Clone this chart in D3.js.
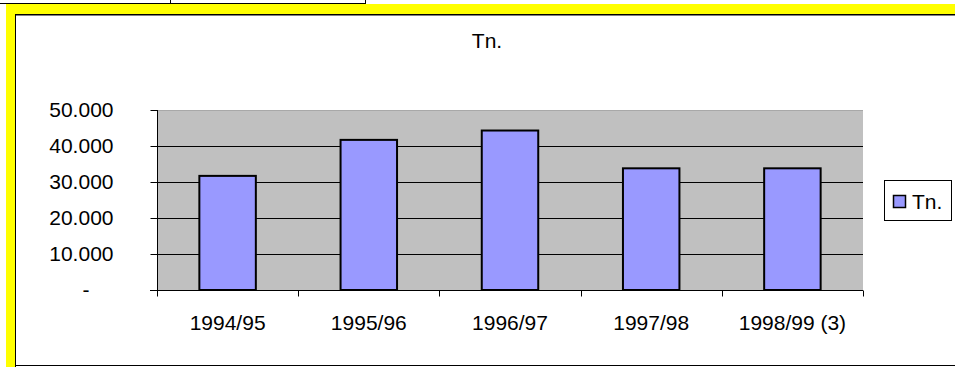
<!DOCTYPE html>
<html>
<head>
<meta charset="utf-8">
<script src="https://cdn.jsdelivr.net/npm/d3@7"></script>
<style>
  html, body { margin: 0; padding: 0; background: #fff; }
  svg { display: block; }
  text { font-family: "Liberation Sans", Arial, sans-serif; fill: #000; }
</style>
</head>
<body>
<svg id="chart" width="955" height="367"></svg>
<script>
// Campaign categories and tonnage per campaign
const categories = ["1994/95", "1995/96", "1996/97", "1997/98", "1998/99 (3)"];
const tonnes = [31700, 41700, 44300, 33800, 33800];
const yTicks = [0, 10000, 20000, 30000, 40000, 50000];
const seriesName = "Tn.";
const chartTitle = "Tn.";

const W = 955, H = 367;
const svg = d3.select("#chart");

// Sheet framing: cell borders above the chart object
svg.append("line").attr("x1", 0).attr("x2", 365).attr("y1", 3.5).attr("y2", 3.5)
  .attr("stroke", "#000").attr("stroke-width", 1);
[170.5, 365.5].forEach(x => svg.append("line").attr("x1", x).attr("x2", x)
  .attr("y1", 0).attr("y2", 4).attr("stroke", "#000").attr("stroke-width", 1));

// Yellow highlighted cell borders
svg.append("rect").attr("x", 6).attr("y", 4).attr("width", W - 6).attr("height", 10).attr("fill", "#ffff00");
svg.append("rect").attr("x", 6).attr("y", 4).attr("width", 9).attr("height", H - 4).attr("fill", "#ffff00");

// Chart object area
svg.append("rect").attr("x", 15).attr("y", 14).attr("width", W - 15).attr("height", H - 14).attr("fill", "#fff");
svg.append("line").attr("x1", 15).attr("x2", W).attr("y1", 14.5).attr("y2", 14.5).attr("stroke", "#000");
svg.append("line").attr("x1", 15).attr("x2", W).attr("y1", 15.5).attr("y2", 15.5).attr("stroke", "#808080");
svg.append("line").attr("x1", 15.5).attr("x2", 15.5).attr("y1", 14).attr("y2", H).attr("stroke", "#000");
svg.append("line").attr("x1", 15).attr("x2", W).attr("y1", 365.5).attr("y2", 365.5).attr("stroke", "#000");

// Title
svg.append("text").attr("x", 487).attr("y", 47.5).attr("text-anchor", "middle")
  .style("font-size", "21px").text(chartTitle);

// Plot area
const plot = { left: 157, right: 863, top: 110, bottom: 290 };
const x = d3.scaleBand().domain(categories).range([plot.left, plot.right]).padding(0);
const y = d3.scaleLinear().domain([0, 50000]).range([plot.bottom, plot.top]);

svg.append("rect").attr("x", plot.left).attr("y", plot.top)
  .attr("width", plot.right - plot.left).attr("height", plot.bottom - plot.top)
  .attr("fill", "#c0c0c0");
svg.append("line").attr("x1", plot.left).attr("x2", plot.right)
  .attr("y1", plot.top + 0.5).attr("y2", plot.top + 0.5).attr("stroke", "#a8a8a8");

// Gridlines
svg.append("g").selectAll("line")
  .data(yTicks.filter(v => v > 0 && v < 50000))
  .join("line")
  .attr("x1", plot.left).attr("x2", plot.right)
  .attr("y1", d => Math.round(y(d)) + 0.5).attr("y2", d => Math.round(y(d)) + 0.5)
  .attr("stroke", "#000").attr("stroke-width", 1);

// Bars (gap width 150%)
const barW = x.bandwidth() / 2.5;
svg.append("g").selectAll("rect")
  .data(categories.map((c, i) => ({ c, v: tonnes[i] })))
  .join("rect")
  .attr("x", d => x(d.c) + (x.bandwidth() - barW) / 2)
  .attr("y", d => y(d.v))
  .attr("width", barW)
  .attr("height", d => y(0) - y(d.v))
  .attr("fill", "#9999ff")
  .attr("stroke", "#000")
  .attr("stroke-width", 2);

// Value axis
const loc = d3.formatLocale({ decimal: ",", thousands: ".", grouping: [3], currency: ["", ""] });
const fmt = loc.format(",.0f");
const yAxis = d3.axisLeft(y).tickValues(yTicks).tickSize(7).tickPadding(37)
  .tickFormat(d => d === 0 ? "-" : fmt(d));
const gy = svg.append("g").attr("transform", `translate(${plot.left + 0.5},0)`).call(yAxis);
gy.select(".domain").attr("stroke", "#000").attr("d", `M0,${plot.top}V${plot.bottom}`);
gy.selectAll(".tick line").attr("stroke", "#000");
gy.selectAll(".tick text")
  .attr("font-family", null)
  .style("font-size", "21px")
  .attr("dy", "0.32em")
  .attr("dx", d => d === 0 ? -24 : 0);

// Category axis
const gx = svg.append("g").attr("transform", `translate(0,${plot.bottom + 0.5})`)
  .call(d3.axisBottom(x).tickSize(0).tickPadding(25));
gx.select(".domain").attr("stroke", "#000").attr("d", `M${plot.left - 7},0H${plot.right}`);
gx.selectAll(".tick text").attr("font-family", null).style("font-size", "21px").attr("dy", "0.71em");
const bounds = categories.map(c => x(c)).concat([x(categories[categories.length - 1]) + x.bandwidth()]);
gx.selectAll(".bound").data(bounds).join("line").attr("class", "bound")
  .attr("x1", d => Math.round(d) + 0.5).attr("x2", d => Math.round(d) + 0.5)
  .attr("y1", 0).attr("y2", 6).attr("stroke", "#000");

// Legend
const lg = svg.append("g").attr("transform", "translate(884,180)");
lg.append("rect").attr("x", 0.5).attr("y", 0.5).attr("width", 67).attr("height", 40)
  .attr("fill", "#fff").attr("stroke", "#000").attr("stroke-width", 1);
lg.append("rect").attr("x", 9.5).attr("y", 15.5).attr("width", 12).attr("height", 12)
  .attr("fill", "#9999ff").attr("stroke", "#000").attr("stroke-width", 1.5);
lg.append("text").attr("x", 28).attr("y", 28.5).style("font-size", "21px").text(seriesName);
</script>
</body>
</html>
